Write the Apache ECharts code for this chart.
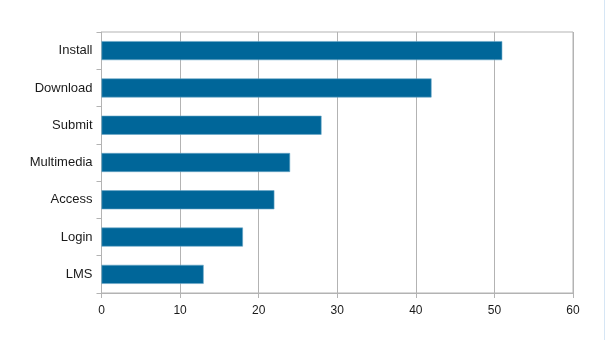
<!DOCTYPE html>
<html>
<head>
<meta charset="utf-8">
<script src="https://cdn.jsdelivr.net/npm/echarts@6/dist/echarts.min.js"></script>
<style>
  html, body { margin: 0; padding: 0; background: #fff; }
  #chart { width: 605px; height: 340px; }
  #edge { position: absolute; left: 604px; top: 0; width: 1px; height: 340px; background: #d6e6f5; }
</style>
</head>
<body>
<div id="chart"></div>
<div id="edge"></div>
<script>
// Categories listed bottom-to-top (category axis on y runs upward)
const categories = ['LMS', 'Login', 'Access', 'Multimedia', 'Submit', 'Download', 'Install'];
const counts = [13, 18, 22, 24, 28, 42, 51];
const xTicks = { min: 0, max: 60, interval: 10 };

const chart = echarts.init(document.getElementById('chart'));
const gridGrey = '#b3b3b3';
chart.setOption({
  animation: false,
  grid: { left: 101.5, right: 32, top: 32, bottom: 47, show: true, borderColor: gridGrey, borderWidth: 1 },
  xAxis: {
    type: 'value',
    min: xTicks.min, max: xTicks.max, interval: xTicks.interval,
    axisLine: { show: true, lineStyle: { color: gridGrey } },
    axisTick: { show: true, length: 5, lineStyle: { color: gridGrey } },
    splitLine: { show: true, lineStyle: { color: gridGrey } },
    axisLabel: { color: '#1a1a1a', fontFamily: 'Liberation Sans', fontSize: 12, margin: 12 }
  },
  yAxis: {
    type: 'category',
    data: categories,
    axisLine: { show: true, lineStyle: { color: gridGrey } },
    axisTick: { show: true, length: 5, alignWithLabel: false, lineStyle: { color: gridGrey } },
    splitLine: { show: false },
    axisLabel: { color: '#1a1a1a', fontFamily: 'Liberation Sans', fontSize: 13, margin: 9 }
  },
  series: [{
    type: 'bar',
    data: counts,
    barWidth: '51%',
    itemStyle: { color: '#006699', borderColor: '#6aa8c8', borderWidth: 0.6 }
  }]
});
</script>
</body>
</html>
